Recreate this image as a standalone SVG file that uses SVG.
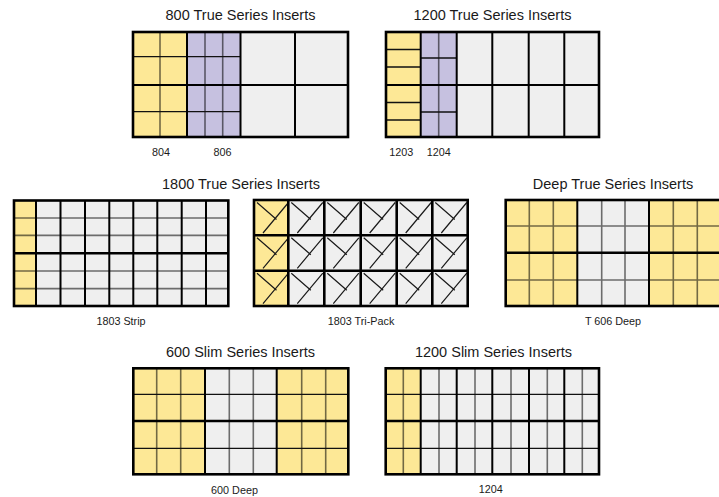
<svg xmlns="http://www.w3.org/2000/svg" xmlns:xlink="http://www.w3.org/1999/xlink" width="719" height="497" viewBox="0 0 719 497">
<style>
.title{font-family:"Liberation Sans",Arial,sans-serif;font-size:14.5px;fill:#1a1a1a;text-anchor:middle}
.lbl{font-family:"Liberation Sans",Arial,sans-serif;font-size:10.8px;fill:#1a1a1a;text-anchor:middle}
.y{fill:#fde896}
.p{fill:#c6c1e0}
.w{fill:#efefef}
.s{stroke:#000;stroke-opacity:.55;stroke-width:1.6;fill:none}
.t{stroke:#111;stroke-width:1.3;fill:none}
.g{stroke:#000;stroke-width:2;fill:none}
.o{stroke:#000;stroke-width:2.6;fill:none}
.d{stroke:#1a1a1a;stroke-width:1.2;fill:none}
</style>
<defs>
<path id="env" class="d" d="M3,2.5 L22.5,19.5 M9,33 L34.5,2.5"/>
</defs>
<rect width="719" height="497" fill="#fff"/>

<g id="g800">
<text class="title" x="240.5" y="20">800 True Series Inserts</text>
<rect class="y" x="133" y="32" width="54" height="105"/>
<rect class="p" x="187" y="32" width="53.5" height="105"/>
<rect class="w" x="240.5" y="32" width="107.5" height="105"/>
<path class="s" d="M160,32V137M205,32V137M222.7,32V137"/>
<path class="t" d="M133,56.7H240.5M133,111.7H240.5"/>
<path class="g" d="M187,32V137M240.5,32V137M295,32V137M133,85H348"/>
<rect class="o" x="133" y="32" width="215" height="105"/>
<text class="lbl" x="161" y="156">804</text>
<text class="lbl" x="222.5" y="156">806</text>
</g>

<g id="g1200">
<text class="title" x="492.5" y="20">1200 True Series Inserts</text>
<rect class="y" x="386" y="32" width="34.7" height="105"/>
<rect class="p" x="420.7" y="32" width="36" height="105"/>
<rect class="w" x="456.7" y="32" width="142.3" height="105"/>
<path class="s" d="M438.7,32V137"/>
<path class="t" d="M386,49.5H420.7M386,67H420.7M386,102.5H420.7M386,120H420.7M420.7,58H456.7M420.7,112H456.7"/>
<path class="g" d="M420.7,32V137M456.7,32V137M492.3,32V137M528.7,32V137M564.3,32V137M386,85H599"/>
<rect class="o" x="386" y="32" width="213" height="105"/>
<text class="lbl" x="401.3" y="156">1203</text>
<text class="lbl" x="438.8" y="156">1204</text>
</g>

<text class="title" x="241" y="189">1800 True Series Inserts</text>

<g id="g1803strip">
<rect class="y" x="14" y="200.5" width="22" height="105.5"/>
<rect class="w" x="36" y="200.5" width="192.3" height="105.5"/>
<path class="s" d="M14,218H228.3M14,235.4H228.3M14,271H228.3M14,288.6H228.3"/>
<path class="g" d="M36,200.5V306M60.5,200.5V306M85,200.5V306M109.3,200.5V306M133.3,200.5V306M157.3,200.5V306M181.7,200.5V306M206,200.5V306"/>
<path class="o" d="M14,253.3H228.3"/>
<rect class="o" x="14" y="200.5" width="214.3" height="105.5"/>
<text class="lbl" x="121" y="325">1803 Strip</text>
</g>

<g id="g1803tri">
<rect class="y" x="254" y="200" width="34.3" height="106"/>
<rect class="w" x="288.3" y="200" width="179.4" height="106"/>
<use xlink:href="#env" x="254" y="200"/><use xlink:href="#env" x="254" y="235.3"/><use xlink:href="#env" x="254" y="270.7"/>
<use xlink:href="#env" x="288.3" y="200"/><use xlink:href="#env" x="288.3" y="235.3"/><use xlink:href="#env" x="288.3" y="270.7"/>
<use xlink:href="#env" x="324.3" y="200"/><use xlink:href="#env" x="324.3" y="235.3"/><use xlink:href="#env" x="324.3" y="270.7"/>
<use xlink:href="#env" x="360.7" y="200"/><use xlink:href="#env" x="360.7" y="235.3"/><use xlink:href="#env" x="360.7" y="270.7"/>
<use xlink:href="#env" x="396.7" y="200"/><use xlink:href="#env" x="396.7" y="235.3"/><use xlink:href="#env" x="396.7" y="270.7"/>
<use xlink:href="#env" x="432.3" y="200"/><use xlink:href="#env" x="432.3" y="235.3"/><use xlink:href="#env" x="432.3" y="270.7"/>
<path class="o" d="M288.3,200V306M324.3,200V306M360.7,200V306M396.7,200V306M432.3,200V306M254,235.3H467.7M254,270.7H467.7"/>
<rect class="o" x="254" y="200" width="213.7" height="106"/>
<text class="lbl" x="361" y="325">1803 Tri-Pack</text>
</g>

<g id="gdeep">
<text class="title" x="613" y="189">Deep True Series Inserts</text>
<rect class="y" x="505.7" y="200" width="71.6" height="106"/>
<rect class="w" x="577.3" y="200" width="71.7" height="106"/>
<rect class="y" x="649" y="200" width="72" height="106"/>
<path class="s" d="M529.3,200V306M553.3,200V306M601.7,200V306M625,200V306M673.3,200V306M697.3,200V306M505.7,226H721M505.7,280H721"/>
<path class="g" d="M577.3,200V306M649,200V306"/>
<path class="o" d="M505.7,252.7H721"/>
<rect class="o" x="505.7" y="200" width="216" height="106"/>
<text class="lbl" x="613" y="325">T 606 Deep</text>
</g>

<g id="g600slim">
<text class="title" x="240.5" y="357">600 Slim Series Inserts</text>
<rect class="y" x="133.3" y="368.3" width="71.7" height="106"/>
<rect class="w" x="205" y="368.3" width="71.7" height="106"/>
<rect class="y" x="276.7" y="368.3" width="71.6" height="106"/>
<path class="s" d="M156.7,368.3V474.3M180.7,368.3V474.3M229.3,368.3V474.3M253.3,368.3V474.3M301.7,368.3V474.3M325.7,368.3V474.3"/>
<path class="t" d="M133.3,394.3H348.3M133.3,448.3H348.3"/>
<path class="g" d="M205,368.3V474.3M276.7,368.3V474.3"/>
<path class="o" d="M133.3,421H348.3"/>
<rect class="o" x="133.3" y="368.3" width="215" height="106"/>
<text class="lbl" x="234.5" y="493.5">600 Deep</text>
</g>

<g id="g1200slim">
<text class="title" x="493.5" y="357">1200 Slim Series Inserts</text>
<rect class="y" x="385.7" y="368.3" width="35" height="106"/>
<rect class="w" x="420.7" y="368.3" width="178.3" height="106"/>
<path class="s" d="M403.3,368.3V474.3M439,368.3V474.3M475,368.3V474.3M511,368.3V474.3M547.3,368.3V474.3M582.3,368.3V474.3"/>
<path class="t" d="M385.7,394.3H599M385.7,448.3H599"/>
<path class="g" d="M420.7,368.3V474.3M456.7,368.3V474.3M492.3,368.3V474.3M529,368.3V474.3M564.3,368.3V474.3"/>
<path class="o" d="M385.7,421H599"/>
<rect class="o" x="385.7" y="368.3" width="213.3" height="106"/>
<text class="lbl" x="490.8" y="493">1204</text>
</g>
</svg>
